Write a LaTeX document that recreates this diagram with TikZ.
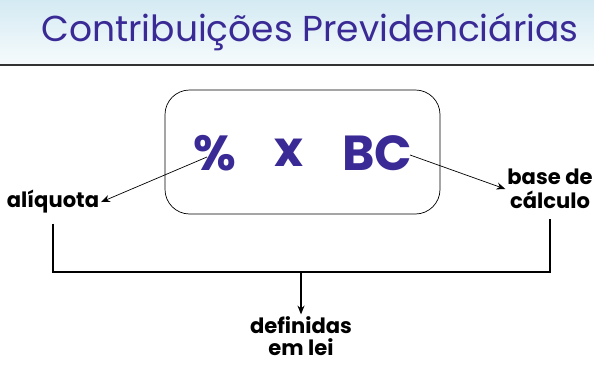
\documentclass[tikz,border=0pt]{standalone}
\usepackage{fontspec}
\setmainfont{Poppins}
\usetikzlibrary{arrows.meta}
\usetikzlibrary{positioning}
\usetikzlibrary{calc}
\definecolor{titlecolor}{RGB}{58,42,150}
\definecolor{bandtop}{RGB}{212,234,243}
\definecolor{bandbottom}{RGB}{246,251,252}
\tikzset{label/.style={font=\fontsize{12}{13.5}\selectfont\bfseries,align=center,inner sep=1pt},
         formula/.style={font=\fontsize{28}{30}\selectfont\bfseries,text=titlecolor,inner sep=1pt},
         pointer/.style={-{Stealth[length=5pt,width=4pt]},thin},
         brace/.style={line width=1.1pt}}

\begin{document}
\begin{tikzpicture}[x=0.02cm,y=-0.02cm]
                    \useasboundingbox (0,0) rectangle (594,366);
                    % header band
                    \shade[top color=bandtop,bottom color=bandbottom] (0,0) rectangle (594,64);
                    \draw[line width=1.2pt,black!80] (0,65) -- (594,65);
                    \node[font=\fontsize{20.5}{24}\selectfont,text=titlecolor] (title) at (310,32) {Contribuições Previdenciárias};
                    % formula box
                    \draw[rounded corners=14pt] (165,90) rectangle (440,214);
                    \node[formula] (pct) at (215,153) {\%};
                    \node[formula] (times) at (289,153) {x};
                    \node[formula] (bc) at (377,153) {BC};
                    % labels
                    \node[label] (aliq) at (53,202) {alíquota};
                    \node[label,align=center] (base) at (550,189) {base de\\cálculo};
                    \node[label,align=center,font=\fontsize{12}{12.5}\selectfont\bfseries] (defin) at (301,336) {definidas\\em lei};
                    \coordinate (join) at (301,272);
                    \draw[pointer] (pct.center) ++(-8,4) -- (aliq.east);
                    \draw[pointer] (bc.east) ++(-4,2) -- (base.west);
                    \draw[brace] (aliq.south) ++(0,8) |- (join) -| ($(base.south)+(0,8)$);
                    \draw[brace,-{Stealth[length=5pt,width=4pt]}] (join) -- (defin.north);
                \end{tikzpicture}
\end{document}
